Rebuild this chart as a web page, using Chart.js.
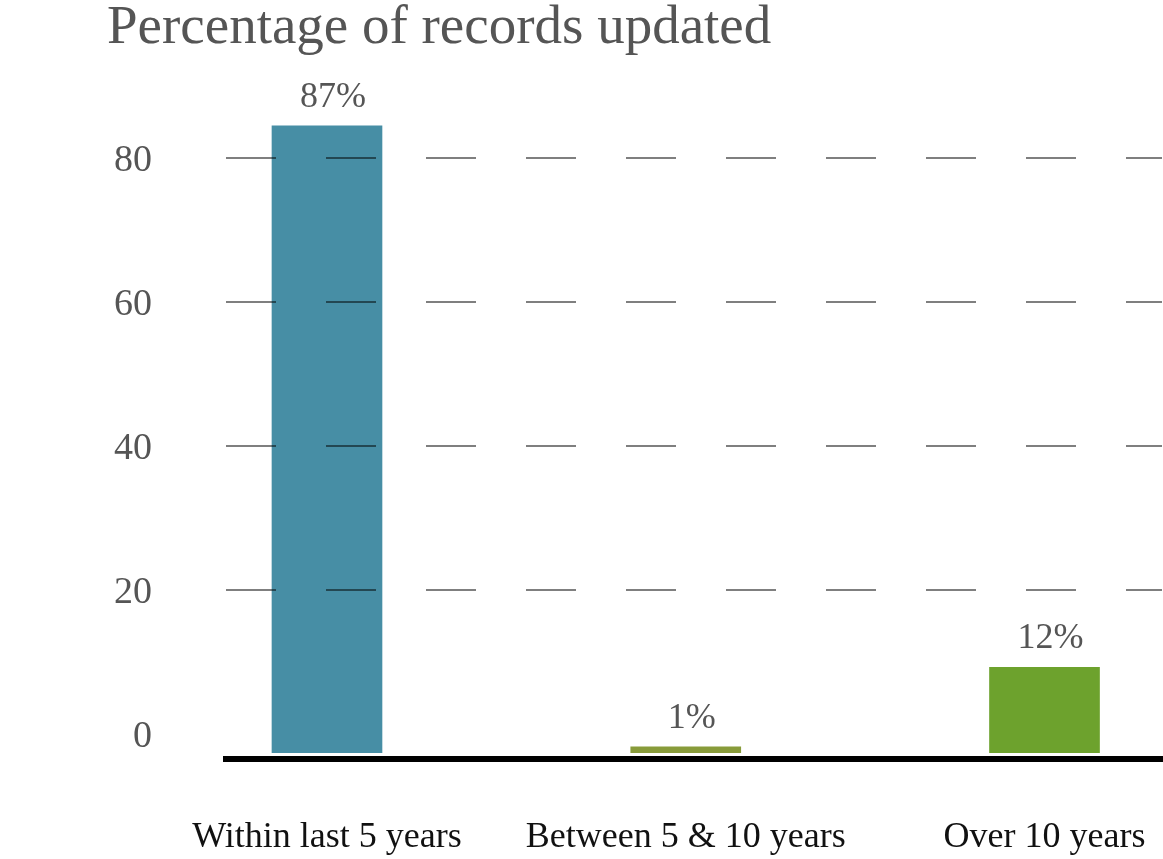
<!DOCTYPE html>
<html>
<head>
<meta charset="utf-8">
<script src="https://cdn.jsdelivr.net/npm/chart.js@4"></script>
<style>
  html, body { margin: 0; padding: 0; background: #ffffff; }
  #wrap { position: relative; width: 1163px; height: 859px; }
</style>
</head>
<body>
<div id="wrap"><canvas id="c"></canvas></div>
<script>
const titleText = 'Percentage of records updated';
const categories = ['Within last 5 years', 'Between 5 & 10 years', 'Over 10 years'];
const values = [87, 1, 12];
const valueLabels = ['87%', '1%', '12%'];
const barColors = ['#478EA5', '#889B3A', '#6DA22D'];
const tickValues = [0, 20, 40, 60, 80];

const serif = '"Liberation Serif", "Times New Roman", serif';

const titlePlugin = {
  id: 'titleText',
  afterDraw(chart) {
    const ctx = chart.ctx;
    ctx.save();
    ctx.font = '55px ' + serif;
    ctx.fillStyle = '#555555';
    ctx.textAlign = 'left';
    ctx.textBaseline = 'alphabetic';
    ctx.fillText(titleText, 107, 43);
    ctx.restore();
  }
};

const valueLabelPlugin = {
  id: 'valueLabels',
  afterDatasetsDraw(chart) {
    const ctx = chart.ctx;
    const meta = chart.getDatasetMeta(0);
    ctx.save();
    ctx.font = '36px ' + serif;
    ctx.fillStyle = '#555555';
    ctx.textAlign = 'center';
    ctx.textBaseline = 'alphabetic';
    meta.data.forEach((bar, i) => {
      ctx.fillText(valueLabels[i], bar.x + 6, bar.y - 18);
    });
    ctx.restore();
  }
};

function zeroPad(scale) {
  scale.paddingTop = 0;
  scale.paddingBottom = 0;
  scale.paddingLeft = 0;
  scale.paddingRight = 0;
}

new Chart(document.getElementById('c'), {
  type: 'bar',
  data: {
    datasets: [{
      data: values.map((v, i) => ({ x: i, y: v })),
      backgroundColor: barColors,
      borderColor: 'rgba(255,255,255,0.55)',
      borderWidth: 1,
      barThickness: 112,
      yAxisID: 'y'
    }]
  },
  options: {
    responsive: true,
    maintainAspectRatio: false,
    animation: false,
    layout: { padding: { top: 90, right: 1, bottom: 0, left: 0 } },
    plugins: {
      legend: { display: false },
      title: { display: false },
      tooltip: { enabled: false }
    },
    scales: {
      x: {
        type: 'linear',
        offset: false,
        bounds: 'data',
        min: -0.2815,
        max: 2.3275,
        afterBuildTicks(scale) { scale.ticks = categories.map((c, i) => ({ value: i })); },
        afterFit(scale) { scale.height = 100; zeroPad(scale); },
        grid: { display: false, drawTicks: false, offset: false },
        border: { display: true, color: '#000000', width: 6 },
        ticks: {
          callback: (v) => categories[v],
          font: { family: serif, size: 36 },
          color: '#111111',
          padding: 57,
          maxRotation: 0,
          autoSkip: false
        }
      },
      y: {
        type: 'linear',
        display: false,
        min: -0.83,
        max: 91.83
      },
      yt: {
        type: 'linear',
        position: 'left',
        min: -3.47,
        max: 89.44,
        afterBuildTicks(scale) { scale.ticks = tickValues.map(v => ({ value: v })); },
        afterFit(scale) { scale.width = 226; zeroPad(scale); },
        grid: {
          z: 1,
          drawTicks: false,
          lineWidth: 2,
          color: (ctx) => (ctx.tick && ctx.tick.value === 0) ? 'rgba(0,0,0,0)' : 'rgba(0,0,0,0.5)'
        },
        border: { display: false, dash: [50, 50], dashOffset: 0 },
        ticks: {
          font: { family: serif, size: 38 },
          color: '#555555',
          padding: 74,
          labelOffset: 3
        }
      }
    }
  },
  plugins: [titlePlugin, valueLabelPlugin]
});
</script>
</body>
</html>
